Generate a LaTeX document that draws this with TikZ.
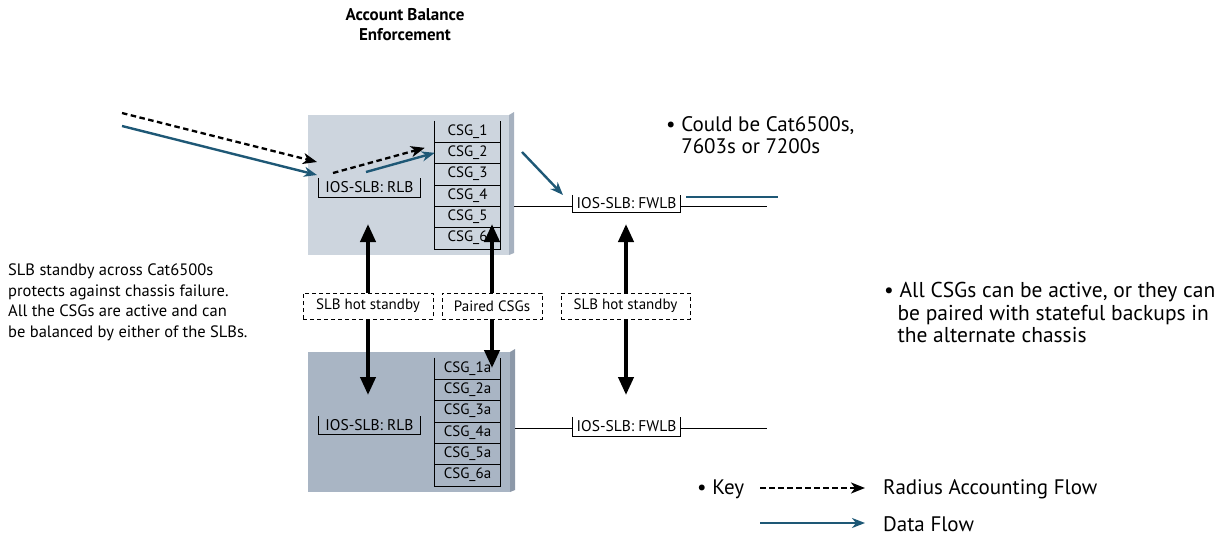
\documentclass[tikz,border=0pt]{standalone}
\usepackage{fontspec}
\setmainfont{PT Sans}
\usetikzlibrary{arrows.meta,calc}
\definecolor{faceA}{HTML}{CDD5DE}
\definecolor{sideA}{HTML}{A6B1BF}
\definecolor{faceB}{HTML}{A9B5C4}
\definecolor{sideB}{HTML}{8C98A8}
\definecolor{flowblue}{HTML}{1E5876}
\newcommand{\fsz}[2]{\fontsize{#1}{#2}\selectfont}
\begin{document}
\begin{tikzpicture}[x=1pt,y=-1pt,
  cell/.style={minimum width=65pt, minimum height=21.33pt, inner sep=0pt,
    font=\fontsize{15}{15}\selectfont},
  bracket/.style={inner sep=0pt, font=\fontsize{15.5}{15.5}\selectfont},
  standby/.style={draw, fill=white, line width=0.7pt, dash pattern=on 4pt off 3pt,
    inner sep=0pt, minimum height=26pt, font=\fontsize{15}{15}\selectfont},
  sync/.style={line width=4pt, {Triangle[length=18pt,width=15pt]}-{Triangle[length=18pt,width=15pt]}},
  radius/.style={line width=2.3pt, dash pattern=on 5.5pt off 3.5pt, -{Stealth[length=14pt,width=11pt,inset=4pt]}},
  data/.style={draw=flowblue, line width=2.4pt, -{Stealth[length=13pt,width=10pt,inset=4pt]}},
  link/.style={line width=0.8pt},
  note/.style={inner sep=0pt, align=left},
]
\useasboundingbox (0,0) rectangle (1225,535);

% title
\node[inner sep=0pt, align=center, font=\bfseries\fontsize{17}{20}\selectfont] (title) at (405,25)
  {Account Balance\\Enforcement};

% upper chassis
\fill[faceA] (308,115) rectangle (509,255);
\fill[sideA] (509,115) -- (514,112) -- (514,253) -- (509,255) -- cycle;
% lower chassis
\fill[faceB] (308,352) rectangle (510,492);
\fill[sideB] (510,352) -- (515,349) -- (515,490) -- (510,492) -- cycle;

% CSG stacks
\foreach \i in {1,...,6} {
  \node[cell] (u\i) at (467.5,{131.5+21.33*(\i-1)}) {CSG\_\i};
  \node[cell] (l\i) at (467.5,{368.5+21.33*(\i-1)}) {CSG\_\i a};
}
\foreach \s in {u,l} {
  \draw[link] (\s1.north west) -- (\s6.south west) -- (\s6.south east) -- (\s1.north east);
  \foreach \i in {1,...,5} \draw[link] (\s\i.south west) -- (\s\i.south east);
}

% load balancers (open-top brackets)
\node[bracket, minimum width=101pt, minimum height=19pt] (rlbU) at (369.5,187.5) {IOS-SLB: RLB};
\node[bracket, minimum width=101pt, minimum height=18pt] (rlbL) at (369.5,425) {IOS-SLB: RLB};
\node[bracket, minimum width=107pt, minimum height=17pt] (fwU) at (626.5,203.5) {IOS-SLB: FWLB};
\node[bracket, minimum width=107pt, minimum height=19pt] (fwL) at (626.5,426.5) {IOS-SLB: FWLB};
\foreach \n in {rlbU,rlbL,fwU,fwL}
  \draw[link] (\n.north west) -- (\n.south west) -- (\n.south east) -- (\n.north east);

% wiring from the chassis to the firewall balancers
\coordinate (wU) at (514,206);
\coordinate (eU) at (767,206);
\coordinate (wL) at (515,428);
\coordinate (eL) at (767,428);
\draw[link] (wU) -- (fwU.west |- wU);
\draw[link] (fwU.east |- eU) -- (eU);
\draw[link] (wL) -- (fwL.west |- wL);
\draw[link] (fwL.east |- eL) -- (eL);
\coordinate (dU) at (778,197);
\draw[draw=flowblue, line width=2.4pt] (686,197) -- (dU);

% hot standby / pairing links
\coordinate (a1t) at (368,224); \coordinate (a1b) at (368,395);
\coordinate (a2t) at (492,224); \coordinate (a2b) at (492,368);
\coordinate (a3t) at (626,224); \coordinate (a3b) at (626,395);
\draw[sync] (a1t) -- (a1b);
\draw[sync] (a2t) -- (a2b);
\draw[sync] (a3t) -- (a3b);
\node[standby, minimum width=130pt] (hs1) at (368,306) {SLB hot standby};
\node[standby, minimum width=100pt] (pc) at (492,306) {Paired CSGs};
\node[standby, minimum width=129pt] (hs2) at (625.5,306) {SLB hot standby};

% incoming flows
\coordinate (rIn) at (122,113);
\coordinate (dIn) at (122,126);
\coordinate (rHit) at (317,162);
\coordinate (dHit) at (317,175);
\draw[radius] (rIn) -- (rHit);
\draw[data] (dIn) -- (dHit);
\coordinate (rOut) at (333,173);
\coordinate (dOut) at (366,172);
\draw[radius] (rOut) -- ($(u2.west)+(-10,-5)$);
\draw[data] (dOut) -- (u2.west);
\coordinate (dFw) at (522,152);
\draw[data] (dFw) -- (563,195);

% notes
\node[note, anchor=north west, font=\fsz{16.5}{20.5}] (left) at (8,264)
  {SLB standby across Cat6500s\\protects against chassis failure.\\All the CSGs are active and can\\be balanced by either of the SLBs.};
\node[note, anchor=north west, font=\fsz{21}{22}] (could) at (666,116)
  {\textbullet\ Could be Cat6500s,\\\hphantom{\textbullet\ }7603s or 7200s};
\node[note, anchor=north west, font=\fsz{21.5}{22.5}] (all) at (884,282)
  {\textbullet\ All CSGs can be active, or they can\\\hphantom{\textbullet}\,be paired with stateful backups in\\\hphantom{\textbullet}\,the alternate chassis};

% key
\node[note, anchor=west, font=\fsz{21}{22}] (key) at (697,489) {\textbullet\ Key};
\coordinate (k1a) at (760,488); \coordinate (k1b) at (865,488);
\coordinate (k2a) at (760,523); \coordinate (k2b) at (865,523);
\draw[radius] (k1a) -- (k1b);
\draw[data] (k2a) -- (k2b);
\node[note, anchor=west, font=\fsz{21}{22}] (kr) at (883,489) {Radius Accounting Flow};
\node[note, anchor=west, font=\fsz{21}{22}] (kd) at (883,524) {Data Flow};
\end{tikzpicture}
\end{document}
